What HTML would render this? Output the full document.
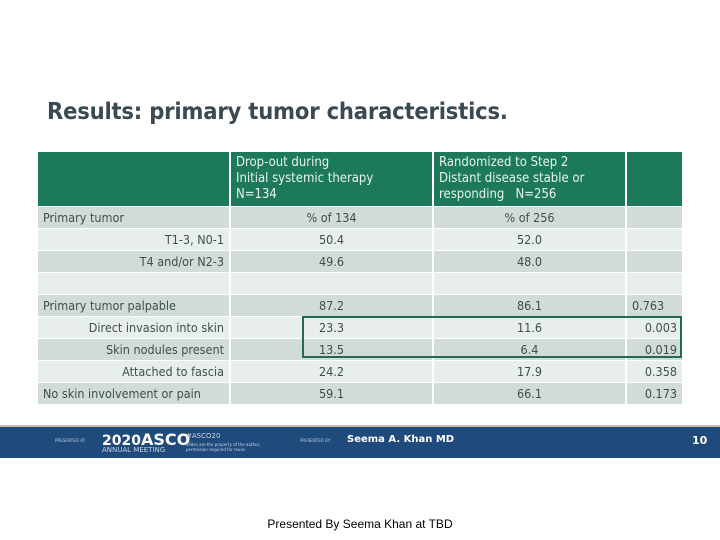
<!DOCTYPE html>
<html><head><meta charset="utf-8"><style>
body{margin:0;width:720px;height:540px;background:#fff;position:relative;overflow:hidden;font-family:"DejaVu Sans","Liberation Sans",sans-serif}
.title{position:absolute;left:47px;top:97px;font-size:23.5px;font-weight:bold;color:#3a4a55;font-family:"DejaVu Sans Condensed","DejaVu Sans",sans-serif;letter-spacing:-0.2px}
table{position:absolute;left:38px;top:152px;border-collapse:collapse;font-size:12.5px;color:#3e4f4a;font-family:"DejaVu Sans Condensed","DejaVu Sans",sans-serif}
td{height:22px;padding:0 5px;border-right:2px solid #fff;border-bottom:1px solid #fff;box-sizing:border-box;white-space:nowrap}
tr.h td{background:#1c7a5a;color:#e8f2ee;height:54px;vertical-align:middle;line-height:16px;font-size:13px}
tr.d td{background:#d1dbd7}
tr.l td{background:#e8eeeb}
.r{text-align:right}.c{text-align:center}
.box{position:absolute;left:302px;top:316px;width:380px;height:42px;border:2px solid #236a4e;box-sizing:border-box}
.band{position:absolute;left:0;top:425px;width:720px;height:33px;background:#1e4a7c;border-top:2px solid #c9bb9b;box-sizing:border-box;color:#fff}
.foot{position:absolute;top:517px;left:0;width:720px;text-align:center;font-size:12px;font-family:"Liberation Sans",sans-serif;color:#000}
</style></head><body>
<div class="title">Results: primary tumor characteristics.</div>
<table>
<colgroup><col style="width:192px"><col style="width:203px"><col style="width:193px"><col style="width:57px"></colgroup>
<tr class="h"><td></td><td>Drop-out during<br>Initial systemic therapy<br>N=134</td><td>Randomized to Step 2<br>Distant disease stable or<br>responding &nbsp;&nbsp;N=256</td><td></td></tr>
<tr class="d"><td>Primary tumor</td><td class="c">% of 134</td><td class="c">% of 256</td><td></td></tr>
<tr class="l"><td class="r">T1-3, N0-1</td><td class="c">50.4</td><td class="c">52.0</td><td></td></tr>
<tr class="d"><td class="r">T4 and/or N2-3</td><td class="c">49.6</td><td class="c">48.0</td><td></td></tr>
<tr class="l"><td></td><td></td><td></td><td></td></tr>
<tr class="d"><td>Primary tumor palpable</td><td class="c">87.2</td><td class="c">86.1</td><td>0.763</td></tr>
<tr class="l"><td class="r">Direct invasion into skin</td><td class="c">23.3</td><td class="c">11.6</td><td class="r">0.003</td></tr>
<tr class="d"><td class="r">Skin nodules present</td><td class="c">13.5</td><td class="c">6.4</td><td class="r">0.019</td></tr>
<tr class="l"><td class="r">Attached to fascia</td><td class="c">24.2</td><td class="c">17.9</td><td class="r">0.358</td></tr>
<tr class="d"><td>No skin involvement or pain</td><td class="c">59.1</td><td class="c">66.1</td><td class="r">0.173</td></tr>
</table>
<div class="box"></div>
<div class="band">
<span style="position:absolute;left:55px;top:11px;font-size:4px;color:#b8c8dc">PRESENTED AT:</span>
<span style="position:absolute;left:102px;top:3px;font-size:14px;font-weight:bold">2020<span style="font-size:16px">ASCO</span></span>
<span style="position:absolute;left:102px;top:19px;font-size:7px;color:#c8d4e4">ANNUAL MEETING</span>
<span style="position:absolute;left:186px;top:5px;font-size:7px;color:#c8d4e4">#ASCO20</span>
<span style="position:absolute;left:186px;top:15px;font-size:4px;color:#c8d4e4;line-height:5px">Slides are the property of the author,<br>permission required for reuse.</span>
<span style="position:absolute;left:300px;top:11px;font-size:4px;color:#b8c8dc">PRESENTED BY:</span>
<span style="position:absolute;left:347px;top:7px;font-size:10px;font-weight:bold">Seema A. Khan MD</span>
<span style="position:absolute;left:692px;top:7px;font-size:11px;font-weight:bold">10</span>
</div>
<div class="foot">Presented By Seema Khan at TBD</div>
</body></html>
